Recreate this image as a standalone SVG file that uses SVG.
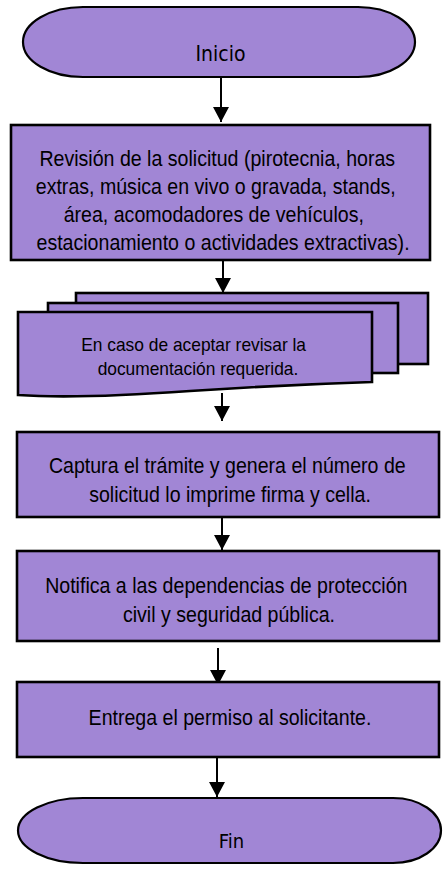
<svg xmlns="http://www.w3.org/2000/svg" width="446" height="877" viewBox="0 0 446 877">
<style>
.shape{fill:#A186D5;stroke:#000;stroke-width:2.6}
.term{fill:#A186D5;stroke:#000;stroke-width:2.2}
.t{font-family:"Liberation Sans",Arial,sans-serif;fill:#000;text-anchor:middle}
.tt{font-family:"DejaVu Sans Condensed","DejaVu Sans",sans-serif;font-stretch:condensed;fill:#000;text-anchor:middle}
.conn{stroke:#000;stroke-width:2;fill:none;marker-end:url(#arrow)}
</style>
<defs>
<marker id="arrow" markerUnits="userSpaceOnUse" markerWidth="16" markerHeight="16" refX="15" refY="8" orient="auto">
<path d="M0,0 L15,8 L0,16 Z" fill="#000"/>
</marker>
</defs>
<rect width="446" height="877" fill="#fff"/>
<g id="connectors">
<line class="conn" x1="221" y1="77" x2="221" y2="122"/>
<line class="conn" x1="223" y1="261" x2="223" y2="293"/>
<line class="conn" x1="222" y1="393" x2="222" y2="421"/>
<line class="conn" x1="222" y1="512" x2="222" y2="550"/>
<line class="conn" x1="218" y1="648" x2="218" y2="685"/>
<line class="conn" x1="217" y1="757" x2="217" y2="797"/>
</g>
<g id="inicio">
<path class="term" d="M83,7 H358 A57,35 0 0 1 358,77 H83 A60,35 0 0 1 83,7 Z"/>
<text class="tt" x="220.5" y="61" font-size="21">Inicio</text>
</g>
<g id="revision">
<rect class="shape" x="11" y="125" width="419" height="135"/>
<g transform="translate(220,0) scale(0.89,1)">
<text class="t" font-size="22">
<tspan x="0" y="166">Revisión de la solicitud (pirotecnia, horas</tspan>
<tspan x="-1.7" y="194">extras, música en vivo o gravada, stands,</tspan>
<tspan x="-3.9" y="222">área, acomodadores de vehículos,</tspan>
<tspan x="3.4" y="250">estacionamiento o actividades extractivas).</tspan>
</text>
</g>
</g>
<g id="documentacion">
<rect class="shape" x="76" y="293" width="352" height="71"/>
<rect class="shape" x="48" y="303" width="350" height="70"/>
<path class="shape" d="M18,312 H372 V382 C310,384 250,387 190,391 C120,396 60,398 18,395 Z"/>
<g transform="translate(197,0) scale(0.965,1)">
<text class="t" font-size="18">
<tspan x="-1" y="351">En caso de aceptar revisar la</tspan>
<tspan x="1" y="375">documentación requerida.</tspan>
</text>
</g>
</g>
<g id="captura">
<rect class="shape" x="17" y="432" width="422" height="85"/>
<g transform="translate(230,0) scale(0.89,1)">
<text class="t" font-size="22">
<tspan x="0" y="473">Captura el trámite y genera el número de</tspan>
<tspan x="0" y="502">solicitud lo imprime firma y cella.</tspan>
</text>
</g>
</g>
<g id="notifica">
<rect class="shape" x="17" y="551" width="422" height="90"/>
<g transform="translate(229,0) scale(0.89,1)">
<text class="t" font-size="22">
<tspan x="0" y="593">Notifica a las dependencias de protección</tspan>
<tspan x="0" y="622">civil y seguridad pública.</tspan>
</text>
</g>
</g>
<g id="entrega">
<rect class="shape" x="17" y="682" width="422" height="75"/>
<g transform="translate(230,0) scale(0.89,1)">
<text class="t" font-size="22" x="0" y="725">Entrega el permiso al solicitante.</text>
</g>
</g>
<g id="fin">
<path class="term" d="M83,798 H393 A48,32.5 0 0 1 393,863 H83 A65,32.5 0 0 1 83,798 Z"/>
<text class="tt" x="231.5" y="848" font-size="20">Fin</text>
</g>
</svg>
